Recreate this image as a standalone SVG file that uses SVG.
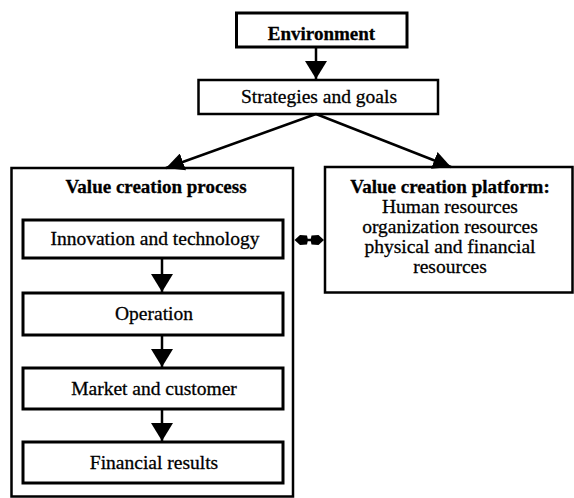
<svg xmlns="http://www.w3.org/2000/svg" width="574" height="498" viewBox="0 0 574 498">
  <style>
    .box { fill: #fff; stroke: #000; stroke-width: 3; }
    .frame { fill: #fff; stroke: #000; stroke-width: 2.5; }
    .lbl { font-family: 'Liberation Serif', 'DejaVu Serif', 'Times New Roman', serif; font-size: 19.5px; fill: #000; text-anchor: middle; stroke: #000; stroke-width: 0.3; }
    .b { font-weight: bold; font-size: 19px; }
    .wire { stroke: #000; stroke-width: 2.5; fill: none; }
  </style>
  <defs>
    <marker id="head" markerUnits="userSpaceOnUse" markerWidth="20" markerHeight="22" refX="18" refY="11" orient="auto">
      <path d="M0,0 L18,11 L0,22 Z" fill="#000"/>
    </marker>
    <marker id="headS" markerUnits="userSpaceOnUse" markerWidth="20" markerHeight="18" refX="18" refY="9" orient="auto">
      <path d="M0,0 L18,9 L0,18 Z" fill="#000"/>
    </marker>
  </defs>

  <rect width="574" height="498" fill="#fff"/>

  <g id="value-creation-process">
    <rect class="frame" x="11.5" y="168" width="281.5" height="328.5"/>
    <text class="lbl b" x="156" y="193">Value creation process</text>
  </g>

  <g id="environment">
    <rect class="box" x="236.5" y="13" width="170.5" height="34"/>
    <text class="lbl b" x="321.5" y="40">Environment</text>
  </g>

  <g id="strategies">
    <rect class="frame" x="198.5" y="80" width="239.5" height="34"/>
    <text class="lbl" x="319" y="103">Strategies and goals</text>
  </g>

  <g id="platform">
    <rect class="frame" x="325" y="167" width="247.5" height="125.5"/>
    <text class="lbl" x="450" y="193"><tspan class="b">Value creation platform:</tspan><tspan x="450" dy="20">Human resources</tspan><tspan x="450" dy="20">organization resources</tspan><tspan x="450" dy="20">physical and financial</tspan><tspan x="450" dy="20">resources</tspan></text>
  </g>

  <g id="innovation">
    <rect class="box" x="23" y="220" width="260" height="38"/>
    <text class="lbl" x="155" y="245">Innovation and technology</text>
  </g>

  <g id="operation">
    <rect class="box" x="23" y="293" width="260" height="42"/>
    <text class="lbl" x="154" y="320">Operation</text>
  </g>

  <g id="market">
    <rect class="box" x="23" y="368" width="260" height="41"/>
    <text class="lbl" x="154" y="394.5">Market and customer</text>
  </g>

  <g id="financial">
    <rect class="box" x="23" y="442" width="260" height="41"/>
    <text class="lbl" x="154" y="468.5">Financial results</text>
  </g>

  <g id="connectors">
    <line class="wire" x1="316" y1="47" x2="316" y2="79" marker-end="url(#head)"/>
    <line class="wire" x1="316" y1="114" x2="166" y2="168" marker-end="url(#headS)"/>
    <line class="wire" x1="316" y1="114" x2="451" y2="167" marker-end="url(#headS)"/>
    <line class="wire" x1="162" y1="258" x2="162" y2="292" marker-end="url(#head)"/>
    <line class="wire" x1="162" y1="335" x2="162" y2="367" marker-end="url(#head)"/>
    <line class="wire" x1="162" y1="409" x2="162" y2="441" marker-end="url(#head)"/>
    <g id="link-platform">
      <line class="wire" x1="304" y1="240" x2="314" y2="240" stroke-width="4"/>
      <path d="M294.5,240 L300,235 L307,235.5 L308,240 L307,244.5 L300,245 Z" fill="#000"/>
      <path d="M324,240 L318.5,235 L311.5,235.5 L310.5,240 L311.5,244.5 L318.5,245 Z" fill="#000"/>
    </g>
  </g>
</svg>
